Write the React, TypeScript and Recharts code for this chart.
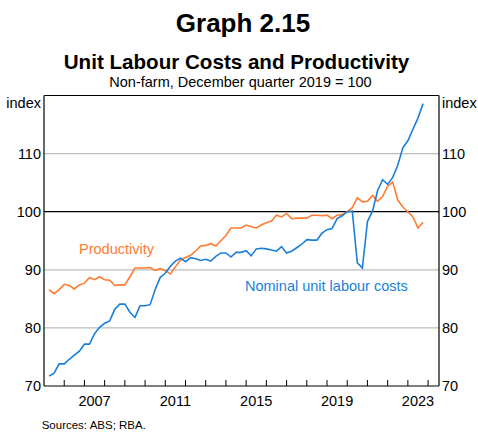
import React from 'react';
import { LineChart, Line, XAxis, YAxis, ReferenceLine } from 'recharts';

const FONT = '"Liberation Sans", Arial, Helvetica, sans-serif';
const ORANGE = '#ff7b30';
const BLUE = '#1a7fd8';

// Quarterly data, March quarter 2005 to September quarter 2023 (Dec qtr 2019 = 100)
const startYear = 2005;
const quarterNames = ['Mar', 'Jun', 'Sep', 'Dec'];

const productivity = [
  86.6, 85.9, 86.6, 87.5,
  87.3, 86.7, 87.4, 87.7,
  88.7, 88.3, 88.8, 88.3,
  88.2, 87.3, 87.4, 87.4,
  88.8, 90.3, 90.3, 90.3,
  90.4, 89.9, 90.2, 89.9,
  89.3, 90.5, 91.7, 92.1,
  92.5, 93.2, 94.1, 94.2,
  94.5, 94.1, 95.0, 95.9,
  97.2, 97.2, 97.2, 97.7,
  97.4, 97.2, 97.7, 98.1,
  98.4, 99.4, 99.1, 99.7,
  98.8, 98.9, 98.9, 98.9,
  99.4, 99.4, 99.3, 99.4,
  98.8, 99.4, 99.5, 100.0,
  100.7, 102.4, 101.7, 101.8,
  102.8, 101.8, 102.6, 104.4,
  105.1, 102.0, 100.8, 100.0,
  99.1, 97.2, 98.2,
];

const nominalULC = [
  71.7, 72.2, 73.8, 73.8,
  74.6, 75.3, 76.0, 77.2,
  77.2, 79.0, 80.1, 80.8,
  81.2, 83.2, 84.1, 84.1,
  82.7, 81.8, 83.8, 83.8,
  84.0, 86.6, 88.7, 89.4,
  90.6, 91.5, 92.0, 91.4,
  92.1, 91.9, 91.6, 91.8,
  91.5, 92.3, 92.9, 92.9,
  92.2, 93.0, 93.0, 93.3,
  92.4, 93.6, 93.7, 93.6,
  93.4, 93.2, 94.0, 92.9,
  93.2, 93.8, 94.4, 95.2,
  95.1, 95.1, 96.3, 96.9,
  97.1, 98.8, 99.3, 100.0,
  100.1, 91.2, 90.3, 98.3,
  100.1, 103.6, 105.5, 104.7,
  105.9, 108.0, 111.0, 112.2,
  114.2, 116.1, 118.6,
];

const yearTicks = [
  2005, 2006, 2007, 2008, 2009, 2010, 2011, 2012, 2013, 2014,
  2015, 2016, 2017, 2018, 2019, 2020, 2021, 2022, 2023, 2024,
];
const labelYears = [2007, 2011, 2015, 2019, 2023];
const yTicks = [70, 80, 90, 100, 110, 120];
const gridValues = [80, 90, 110];
const xDomain: [number, number] = [2005, 2024.54];
const yDomain: [number, number] = [70, 120];

// year boundaries carry tick marks; mid-years carry the labels
const xTicks: number[] = [];
yearTicks.forEach((y) => {
  xTicks.push(y);
  if (y + 0.5 < xDomain[1]) xTicks.push(y + 0.5);
});

const rows = productivity.map((p, i) => {
  const year = startYear + Math.floor(i / 4);
  const q = i % 4;
  return {
    label: `${quarterNames[q]}-${year}`,
    t: year + (q + 1) / 4,
    prod: p,
    ulc: nominalULC[i],
  };
});

function XTick(props: any) {
  const { x, y, payload } = props;
  const v = payload.value as number;
  if (Number.isInteger(v)) {
    if (v === xDomain[0]) return <g />;
    return <line x1={x} x2={x} y1={y} y2={y - 6} stroke="#000" strokeWidth={1} />;
  }
  const yr = Math.floor(v);
  if (labelYears.indexOf(yr) >= 0) {
    return (
      <text x={x} y={y + 20} textAnchor="middle" fontSize={14.5} fontFamily={FONT} fill="#000">
        {yr}
      </text>
    );
  }
  return <g />;
}

function YTick(props: any) {
  const { x, y, payload, textAnchor } = props;
  const isTop = payload.value === 120;
  return (
    <text
      x={x}
      y={y}
      dy={isTop ? 12.8 : 5.1}
      textAnchor={textAnchor}
      fontSize={14.5}
      fontFamily={FONT}
      fill="#000"
    >
      {isTop ? 'index' : payload.value}
    </text>
  );
}

export default function App() {
  return (
    <div
      style={{
        position: 'absolute',
        left: 0,
        top: 0,
        width: 478,
        height: 432,
        background: '#fff',
        fontFamily: FONT,
      }}
    >
      <LineChart
        width={478}
        height={432}
        data={rows}
        margin={{ top: 95.5, right: 0, bottom: 16, left: 0 }}
      >
        <XAxis
          xAxisId="yr"
          dataKey="t"
          type="number"
          domain={xDomain}
          ticks={xTicks}
          interval={0}
          allowDataOverflow
          height={30}
          tickSize={0}
          tickMargin={0}
          tickLine={false}
          axisLine={{ stroke: '#000', strokeWidth: 1.2 }}
          tick={(p: any) => <XTick {...p} />}
        />
        <YAxis
          yAxisId="l"
          orientation="left"
          width={44}
          type="number"
          domain={yDomain}
          ticks={yTicks}
          allowDataOverflow
          tickLine={false}
          tickSize={0}
          tickMargin={3}
          axisLine={{ stroke: '#000', strokeWidth: 1.2 }}
          tick={(p: any) => <YTick {...p} />}
        />
        <YAxis
          yAxisId="r"
          orientation="right"
          width={39}
          type="number"
          domain={yDomain}
          ticks={yTicks}
          allowDataOverflow
          tickLine={false}
          tickSize={0}
          tickMargin={3}
          axisLine={{ stroke: '#000', strokeWidth: 1.2 }}
          tick={(p: any) => <YTick {...p} />}
        />
        {gridValues.map((v) => (
          <ReferenceLine
            key={v}
            xAxisId="yr"
            yAxisId="l"
            y={v}
            stroke="#bcbcbc"
            strokeWidth={1.2}
            ifOverflow="visible"
          />
        ))}
        <ReferenceLine xAxisId="yr" yAxisId="l" y={100} stroke="#000" strokeWidth={1.2} ifOverflow="visible" />
        <ReferenceLine xAxisId="yr" yAxisId="l" y={120} stroke="#000" strokeWidth={1.2} ifOverflow="visible" />
        <Line
          xAxisId="yr"
          yAxisId="l"
          type="linear"
          dataKey="prod"
          stroke={ORANGE}
          strokeWidth={1.6}
          dot={false}
          isAnimationActive={false}
        />
        <Line
          xAxisId="yr"
          yAxisId="l"
          type="linear"
          dataKey="ulc"
          stroke={BLUE}
          strokeWidth={1.6}
          dot={false}
          isAnimationActive={false}
        />
      </LineChart>
      <svg
        width={478}
        height={432}
        style={{ position: 'absolute', left: 0, top: 0, pointerEvents: 'none' }}
      >
        <text x={243} y={32} textAnchor="middle" fontSize={26} fontWeight="bold" fontFamily={FONT} fill="#000">
          Graph 2.15
        </text>
        <text x={236.5} y={69} textAnchor="middle" fontSize={20.6} fontWeight="bold" fontFamily={FONT} fill="#000">
          Unit Labour Costs and Productivity
        </text>
        <text x={240.5} y={87.3} textAnchor="middle" fontSize={14.5} fontFamily={FONT} fill="#000">
          Non-farm, December quarter 2019 = 100
        </text>
        <text x={79} y={254.2} fontSize={14.5} fontFamily={FONT} fill={ORANGE}>
          Productivity
        </text>
        <text x={245} y={291} fontSize={14.5} fontFamily={FONT} fill={BLUE}>
          Nominal unit labour costs
        </text>
        <text x={41.7} y={429} fontSize={11.5} fontFamily={FONT} fill="#000">
          Sources: ABS; RBA.
        </text>
      </svg>
    </div>
  );
}
